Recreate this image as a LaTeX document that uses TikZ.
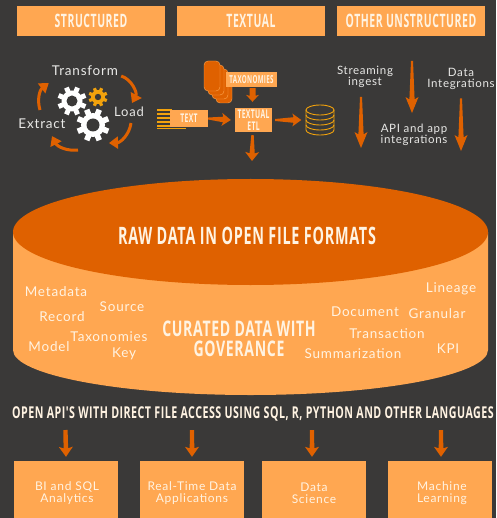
\documentclass[tikz,border=0pt]{standalone}
\usepackage{fontspec}
\usetikzlibrary{calc,arrows.meta}
\newfontfamily\hdfont[FakeStretch=0.565,LetterSpace=3]{Open Sans Bold}
\newfontfamily\hdraw[FakeStretch=0.6,LetterSpace=3]{Open Sans Bold}
\newfontfamily\hdwide[FakeStretch=0.655,LetterSpace=3]{Open Sans Bold}
\newfontfamily\lbfont[LetterSpace=6]{Lato}
\definecolor{bgc}{HTML}{3A3938}
\definecolor{lightor}{HTML}{FFA751}
\definecolor{darkor}{HTML}{DF6100}
\definecolor{yel}{HTML}{F2A20C}
\definecolor{txt}{HTML}{FFF3E2}
\definecolor{lab}{HTML}{E8E8E6}
\tikzset{
  x=1pt,y=-1pt,
  header/.style={fill=lightor,draw=none,minimum width=148pt,minimum height=30pt,inner sep=0pt,text=txt,font=\hdfont\fontsize{18.5}{18.5}\selectfont},
  tag/.style={fill=lightor,draw=none,inner sep=0pt,text=txt,align=center,font=\hdfont\fontsize{12}{12.5}\selectfont},
  dest/.style={fill=lightor,draw=none,minimum width=104pt,minimum height=57pt,inner sep=0pt,text=txt,align=center},
  destlab/.style={text=txt,align=center,inner sep=0pt,font=\lbfont\fontsize{12}{12}\selectfont},
  lab/.style={text=lab,align=center,inner sep=0pt,font=\lbfont\fontsize{11.5}{11}\selectfont},
  cyl/.style={text=txt,inner sep=0pt,font=\lbfont\fontsize{13.5}{14}\selectfont},
  conn/.style n args={4}{draw=none,fill=darkor,to path={
    -- ($(\tikztostart)!#3pt!90:(\tikztotarget)$)
    -- ($(\tikztotarget)!0.85*#1pt!(\tikztostart)!#4pt!90:(\tikztotarget)$)
    -- ($(\tikztotarget)!#1pt!(\tikztostart)!#2pt!90:(\tikztotarget)$)
    -- (\tikztotarget)
    -- ($(\tikztotarget)!#1pt!(\tikztostart)!#2pt!-90:(\tikztotarget)$)
    -- ($(\tikztotarget)!0.85*#1pt!(\tikztostart)!#4pt!-90:(\tikztotarget)$)
    -- ($(\tikztostart)!#3pt!-90:(\tikztotarget)$)
    -- cycle}},
  longarr/.style={conn={16}{6.5}{1}{2.6}},
  shortarr/.style={conn={9}{6.5}{1}{2.8}},
  downarr/.style={conn={10}{7}{2.1}{2.3}},
  curv/.style={draw=darkor,line width=3pt,-{Triangle[length=9pt,width=12pt]}},
}
\newcommand{\mygear}[6]{% x y outer body hole color
  \begin{scope}[shift={(#1,#2)}]
    \foreach \a in {0,45,...,315}{\draw[#6,line width=0.34*#3*1pt] (0,0) -- (\a+22.5:#3);}
    \fill[#6] (0,0) circle[radius=#4];
    \fill[bgc] (0,0) circle[radius=#5];
  \end{scope}}
\begin{document}
\begin{tikzpicture}
\useasboundingbox (0,0) rectangle (496,518);
\fill[bgc] (0,0) rectangle (496,518);

% headers
\node[header] (h1) at (91,21) {STRUCTURED};
\node[header] (h2) at (251,21) {TEXTUAL};
\node[header] (h3) at (411,21) {OTHER UNSTRUCTURED};

% ETL cycle
\node[lab,font=\lbfont\fontsize{13.5}{13}\selectfont] (transform) at (85,71) {Transform};
\node[lab,font=\lbfont\fontsize{13}{13}\selectfont] (load) at (129,112) {Load};
\node[lab,font=\lbfont\fontsize{13.5}{13}\selectfont] (extract) at (42,124) {Extract};
\mygear{72}{101}{14.5}{10.5}{5.5}{white}
\mygear{98}{97}{9.5}{7}{3.2}{yel}
\mygear{93}{125}{16.5}{12}{6.5}{white}
\coordinate (cb) at (78,150);
\coordinate (cl) at (40,110);
\draw[curv] ($(transform.east)+(3,5)$) to[bend left=50] ($(load.north)+(3,-4)$);
\draw[curv] ($(load.south)+(2,6)$) to[bend left=40] ($(load.south)+(-20,26)$);
\draw[curv] (cb) to[bend left=35] ($(extract.south)+(10,7)$);
\draw[curv] (cl) to[bend left=35] ($(transform.west)+(-3,12)$);

% textual group
\foreach \d in {12,8,4,0}{
  \draw[lightor,line width=0.4pt,fill=darkor,rounded corners=4pt] (204+\d,61+\d) rectangle (220+\d,91+\d);}
\node[tag,minimum width=51pt,minimum height=15pt,font=\hdfont\fontsize{11}{12}\selectfont] (taxo) at (251.5,79.5) {TAXONOMIES};
\node[tag,minimum width=37pt,minimum height=24pt] (etl) at (253.5,120) {TEXTUAL\\ETL};
\foreach \yy in {110,114,118,122,126}{\draw[yel,line width=1.1pt] (157,\yy) -- (172,\yy);}
\draw[yel,line width=0.9pt] (157,128) -- (186,128);
\node[tag,minimum width=38pt,minimum height=17pt] (text) at (189,118.5) {TEXT};
\node[inner sep=0pt,minimum width=29pt,minimum height=30pt] (db) at (320,120) {};
\draw[yel,line width=0.9pt] (306,110) -- (306,130) arc[start angle=180,end angle=360,x radius=14pt,y radius=5pt] -- (334,110);
\draw[yel,line width=0.9pt] (320,110) ellipse[x radius=14pt,y radius=5pt];
\foreach \yy in {115,120,125}{\draw[yel,line width=0.9pt] (306,\yy) arc[start angle=180,end angle=360,x radius=14pt,y radius=5pt];}
\coordinate (etlout) at (252,161);
\draw[conn={7}{6.5}{3}{3}] ([xshift=1pt,yshift=-1pt]taxo.south) to ([xshift=-1pt,yshift=6pt]etl.north);
\draw[shortarr] (text.east) to ([xshift=-4pt]etl.west);
\draw[shortarr] ([xshift=3pt]etl.east) to ([xshift=-4pt]db.west);
\draw[conn={9}{7}{1.2}{2.6}] ([xshift=-1pt,yshift=-3pt]etl.south) to (etlout);

% other unstructured
\node[lab] (stream) at (365,77) {Streaming\\ingest};
\node[lab] (api) at (414,135) {API and app\\integrations};
\node[lab] (dint) at (461,78.5) {Data\\Integrations};
\coordinate (midtop) at (412,61);
\coordinate (streamend) at (361,148);
\coordinate (dintend) at (461,151);
\draw[longarr] ($(stream.south)+(-4,9)$) to (streamend);
\draw[longarr] (midtop) to ($(api.north)+(-2,-11)$);
\draw[longarr] ($(dint.south)+(0,9)$) to (dintend);

% cylinder
\fill[lightor] (13,232) -- (13,350) arc[start angle=180,end angle=360,x radius=237.5pt,y radius=45pt] -- (488,232) -- cycle;
\fill[darkor] (250.5,232) ellipse[x radius=237.5pt,y radius=53pt];
\node[text=txt,inner sep=0pt,font=\hdraw\fontsize{24}{24}\selectfont] (raw) at (247,236) {RAW DATA IN OPEN FILE FORMATS};
\node[text=txt,inner sep=0pt,align=center,font=\hdwide\fontsize{21.5}{19.5}\selectfont] (cur) at (239,339) {CURATED DATA WITH\\GOVERANCE};
\node[cyl] at (56,292) {Metadata};
\node[cyl] at (122,307) {Source};
\node[cyl] at (62,317) {Record};
\node[cyl] at (109,337) {Taxonomies};
\node[cyl] at (49,347) {Model};
\node[cyl] at (124,354) {Key};
\node[cyl] at (451,289) {Lineage};
\node[cyl] at (365,312) {Document};
\node[cyl] at (437,314) {Granular};
\node[cyl] at (387,334) {Transaction};
\node[cyl] at (448,349) {KPI};
\node[cyl] at (353,354) {Summarization};

% API line
\node[text=txt,inner sep=0pt,font=\hdwide\fontsize{16.3}{16}\selectfont] (openapi) at (253,414) {OPEN API'S WITH DIRECT FILE ACCESS USING SQL, R, PYTHON AND OTHER LANGUAGES};

% destinations
\node[dest] (d1) at (66,489.5) {};
\node[dest] (d2) at (192,489.5) {};
\node[dest] (d3) at (314,489.5) {};
\node[dest] (d4) at (440,489.5) {};
\node[destlab] at (67,493) {BI and SQL\\Analytics};
\node[destlab] at (192,493) {Real-Time Data\\Applications};
\node[destlab] at (314,493) {Data\\Science};
\node[destlab] at (442,493) {Machine\\Learning};
\coordinate (o1) at (65.5,430);
\coordinate (o2) at (192,430);
\coordinate (o3) at (312,430);
\coordinate (o4) at (441,430);
\draw[downarr] (o1) to ([yshift=4pt]d1.north);
\draw[downarr] (o2) to ([yshift=4pt]d2.north);
\draw[downarr] (o3) to ([xshift=-2pt,yshift=4pt]d3.north);
\draw[downarr] (o4) to ([xshift=1pt,yshift=4pt]d4.north);
\end{tikzpicture}
\end{document}
